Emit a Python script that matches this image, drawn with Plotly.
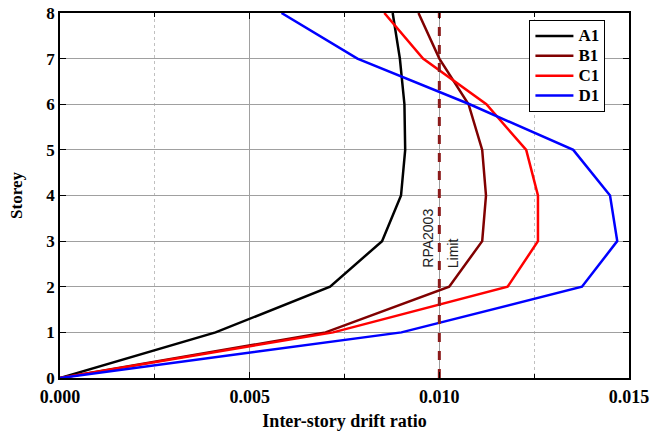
import plotly.graph_objects as go

stories = [0, 1, 2, 3, 4, 5, 6, 7, 8]
a1 = [0.0, 0.0041, 0.00712, 0.00849, 0.00899, 0.0091, 0.00908, 0.00896, 0.00877]
b1 = [0.0, 0.0070, 0.01026, 0.01113, 0.01123, 0.01113, 0.01077, 0.0100, 0.00945]
c1 = [0.0, 0.0072, 0.0118, 0.0126, 0.0126, 0.01229, 0.01124, 0.00957, 0.00855]
d1 = [0.0, 0.0090, 0.01376, 0.01469, 0.0145, 0.01353, 0.0108, 0.00784, 0.00584]
series_names = ["A1", "B1", "C1", "D1"]
series_colors = ["#000000", "#800000", "#ff0000", "#0000ff"]
limit_value = 0.010
limit_labels = ["RPA2003", "Limit"]

serif = "Liberation Serif, Times New Roman, serif"

fig = go.Figure()
for name, vals, col in zip(series_names, [a1, b1, c1, d1], series_colors):
    fig.add_trace(go.Scatter(x=vals, y=stories, mode="lines",
                             name='<span style="font-size:17px"><b>' + name + "</b></span>",
                             line=dict(color=col, width=2.5)))

fig.add_trace(go.Scatter(x=[limit_value, limit_value], y=[0, 8], mode="lines",
                         showlegend=False,
                         line=dict(color="#8b1a1a", width=3, dash="dash")))

fig.add_annotation(x=limit_value, y=2.37, xref="x", yref="y", text=limit_labels[0],
                   textangle=-90, showarrow=False, xanchor="right", yanchor="bottom",
                   xshift=-1, font=dict(family="Liberation Sans, Arial", size=14, color="#222"))
fig.add_annotation(x=limit_value, y=2.37, xref="x", yref="y", text=limit_labels[1],
                   textangle=-90, showarrow=False, xanchor="left", yanchor="bottom",
                   xshift=4, font=dict(family="Liberation Sans, Arial", size=14, color="#222"))

fig.update_layout(
    width=650, height=431,
    margin=dict(l=60, r=21, t=13, b=53),
    plot_bgcolor="white", paper_bgcolor="white",
    font=dict(family=serif, size=17, color="black"),
    legend=dict(x=0.825, y=0.981, xanchor="left", yanchor="top",
                bordercolor="black", borderwidth=1, bgcolor="white",
                font=dict(family=serif, size=13, color="black"),
                tracegroupgap=0, itemwidth=38),
    xaxis=dict(range=[0, 0.015], dtick=0.005, tickformat=".3f", automargin=False,
               showline=True, linecolor="black", linewidth=1.5, mirror="ticks",
               ticks="inside", ticklen=6, tickcolor="black",
               showgrid=True, gridcolor="#a0a0a0", gridwidth=1,
               minor=dict(dtick=0.0025, showgrid=True, gridcolor="#c0c0c0",
                          griddash="dot", ticks="inside", ticklen=4, tickcolor="black"),
               zeroline=False, tickprefix="<b>", ticksuffix="</b>",
               ticklabelstandoff=2,
               tickfont=dict(family=serif, size=18, color="black"),
               title=dict(text="<b>Inter-story drift ratio</b>", standoff=12,
                          font=dict(family=serif, size=18, color="black"))),
    yaxis=dict(range=[0, 8], dtick=1, automargin=False,
               showline=True, linecolor="black", linewidth=1.5, mirror="ticks",
               ticks="inside", ticklen=6, tickcolor="black",
               showgrid=True, gridcolor="#a0a0a0", gridwidth=1,
               zeroline=False, tickprefix="<b>", ticksuffix="</b>",
               tickfont=dict(family=serif, size=17, color="black"),
               title=dict(text="<b>Storey</b>", standoff=19,
                          font=dict(family=serif, size=17, color="black"))),
)

fig.write_html("out.html", config={"displayModeBar": False},
               post_script="document.body.style.margin='0px';document.body.style.padding='0px';")
